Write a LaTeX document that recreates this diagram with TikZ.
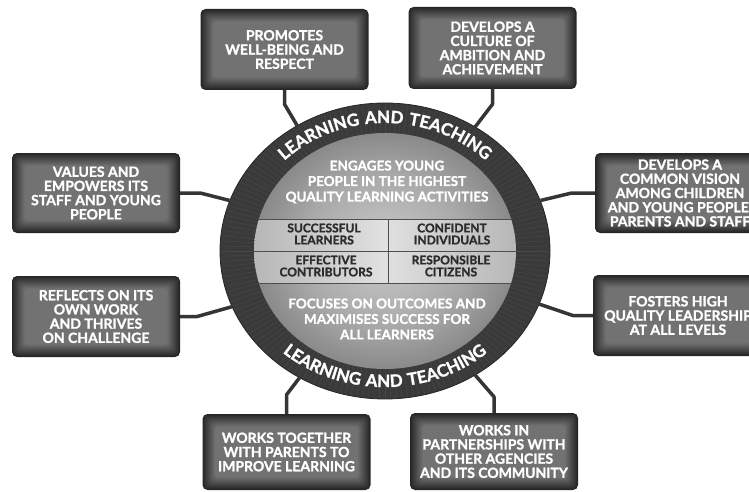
\documentclass[tikz,border=0pt]{standalone}
\usepackage{fontspec}
\setmainfont{Lato}[BoldFeatures={FakeBold=1.4}]
\newfontfamily\ringfamily{Lato}[BoldFeatures={FakeBold=1.4,LetterSpace=7}]
\usetikzlibrary{shapes.geometric,decorations.text,calc}
\definecolor{ringgray}{HTML}{3A3A3A}
\definecolor{ringline}{HTML}{262626}
\definecolor{ringtick}{HTML}{474747}
\definecolor{wiregray}{HTML}{353535}
\definecolor{cardedge}{HTML}{262626}
\definecolor{cardmid}{HTML}{727272}
\definecolor{bandline}{HTML}{4E4E4E}
\definecolor{inkgray}{HTML}{2C2C2C}
\pgfdeclareradialshading{discglow}{\pgfpoint{0bp}{0bp}}{%
  color(0bp)=(black!20); color(16bp)=(black!34); color(34bp)=(black!58);
  color(50bp)=(black!76); color(60bp)=(black!76)}
\newcommand\cardfont{\fontsize{14}{14.2}\selectfont\bfseries}
\newcommand\discfont{\fontsize{13.5}{15.5}\selectfont\bfseries}
\newcommand\cellfont{\fontsize{12}{12}\selectfont\bfseries}
\newcommand\ringfont{\ringfamily\fontsize{17}{19}\selectfont\bfseries}
\tikzset{
  card/.style={rectangle, rounded corners=5pt, minimum width=168pt, minimum height=80pt,
    inner sep=0pt, align=center, text=white, font=\cardfont, fill=cardedge,
    path picture={
      \foreach \k in {1,...,14}{
        \pgfmathsetmacro\mix{\k*100/14}
        \fill[rounded corners=4pt, cardmid!\mix!cardedge]
          ($(path picture bounding box.south west)+(\k*0.9pt,\k*0.9pt)$) rectangle
          ($(path picture bounding box.north east)-(\k*0.9pt,\k*0.9pt)$);
      }
    }},
  wire/.style={draw=wiregray, line width=3.5pt, line join=round},
  disctext/.style={text=white, font=\discfont, align=center, inner sep=0pt},
  celltext/.style={text=inkgray, font=\cellfont, align=center, inner sep=0pt},
  ringtext/.style={decoration={text along path, text align=center,
    text={|\ringfont\color{white}|LEARNING AND TEACHING}}, decorate}
}

\begin{document}
\begin{tikzpicture}[x=1pt, y=1pt]
  \useasboundingbox (0,0) rectangle (749,491);

  % ring and shaded disc
  \node[ellipse, minimum width=330pt, minimum height=296pt, inner sep=0pt, fill=ringgray, draw=ringline, line width=0.8pt] (ring) at (385,240) {};
  \begin{scope}[shift={(ring.center)}]
    \foreach \a in {0,2,...,358}
      \draw[ringtick, line width=0.5pt] (\a:131pt and 118pt) -- (\a:164pt and 147pt);
  \end{scope}
  \node[ellipse, minimum width=262pt, minimum height=236pt, inner sep=0pt, shade, shading=discglow] (disc) at (ring.center) {};

  % the four capacities
  \begin{scope}
    \clip (disc.center) ellipse [x radius=131pt, y radius=118pt];
    \fill[left color=black!30, right color=black!30, middle color=black!12] (240,208) rectangle (530,272);
    \draw[bandline, line width=0.7pt] (240,272) -- (530,272) (240,240) -- (530,240) (240,208) -- (530,208);
    \draw[bandline, line width=0.7pt] (388,208) -- (388,272);
  \end{scope}
  \node[celltext] (learners) at (324,257) {SUCCESSFUL\\LEARNERS};
  \node[celltext] (individuals) at (452,257) {CONFIDENT\\INDIVIDUALS};
  \node[celltext] (contributors) at (326,225) {EFFECTIVE\\CONTRIBUTORS};
  \node[celltext] (citizens) at (451,225) {RESPONSIBLE\\CITIZENS};

  \node[disctext] (engage) at (387,309) {ENGAGES YOUNG\\PEOPLE IN THE HIGHEST\\QUALITY LEARNING ACTIVITIES};
  \node[disctext] (focus) at (387,172) {FOCUSES ON OUTCOMES AND\\MAXIMISES SUCCESS FOR\\ALL LEARNERS};

  \path[ringtext] (ring.center) ++(160:142pt and 128pt) arc[start angle=160, end angle=20, x radius=142pt, y radius=128pt];
  \path[ringtext] (ring.center) ++(200:154pt and 136pt) arc[start angle=200, end angle=340, x radius=154pt, y radius=136pt];

  % outer cards
  \node[card, minimum height=81pt] (promote) at (284.5,441.5) {PROMOTES\\WELL-BEING AND\\RESPECT};
  \node[card, minimum height=82pt] (culture) at (492.5,443) {DEVELOPS A\\CULTURE OF\\AMBITION AND\\ACHIEVEMENT};
  \node[card] (values) at (96,298) {VALUES AND\\EMPOWERS ITS\\STAFF AND YOUNG\\PEOPLE};
  \node[card, minimum width=170pt] (vision) at (680,298) {DEVELOPS A\\COMMON VISION\\AMONG CHILDREN\\AND YOUNG PEOPLE,\\PARENTS AND STAFF};
  \node[card, minimum height=81pt] (reflect) at (96,174.5) {REFLECTS ON ITS\\OWN WORK\\AND THRIVES\\ON CHALLENGE};
  \node[card, minimum width=170pt, minimum height=81pt] (leader) at (678,175.5) {FOSTERS HIGH\\QUALITY LEADERSHIP\\AT ALL LEVELS};
  \node[card, minimum height=76pt] (parents) at (286.5,39) {WORKS TOGETHER\\WITH PARENTS TO\\IMPROVE LEARNING};
  \node[card, minimum height=77pt] (partners) at (494,39.5) {WORKS IN\\PARTNERSHIPS WITH\\OTHER AGENCIES\\AND ITS COMMUNITY};

  % connectors
  \draw[wire] (promote.south) -- ++(0,-14) -- (ring.125);
  \draw[wire] (culture.south) -- ++(0,-15) -- (ring.54);
  \draw[wire] (values.east) -- ++(20,0) -- (ring.162);
  \draw[wire] (vision.west) -- ++(-23,0) -- (ring.18);
  \draw[wire] (reflect.east) -- ++(17,0) -- (ring.200);
  \draw[wire] (leader.west) -- ++(-20,0) -- (ring.341);
  \draw[wire] (parents.north) -- ++(0,19) -- (ring.236);
  \draw[wire] (partners.north) -- ++(0,16) -- (ring.306);
\end{tikzpicture}
\end{document}
